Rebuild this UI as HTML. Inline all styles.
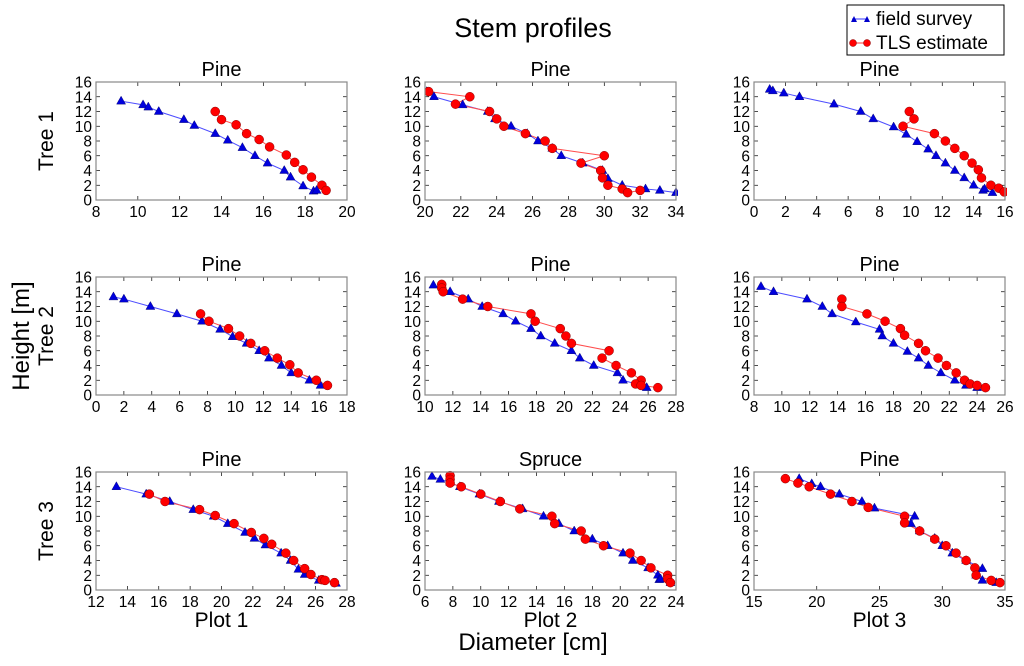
<!DOCTYPE html>
<html><head><meta charset="utf-8"><style>
body{margin:0;background:#fff}
svg text{font-family:"Liberation Sans","DejaVu Sans",sans-serif;fill:#000}
</style></head><body>
<svg id="fig" width="1024" height="661" viewBox="0 0 1024 661" xmlns="http://www.w3.org/2000/svg">
<text x="533" y="37" font-size="27" text-anchor="middle">Stem profiles</text>
<text x="0" y="0" font-size="24" text-anchor="middle" transform="translate(29,336) rotate(-90)">Height [m]</text>
<text x="533" y="650" font-size="24" text-anchor="middle">Diameter [cm]</text>
<g>
<rect x="847" y="5" width="157" height="50" fill="#fff" stroke="#000" stroke-width="1"/>
<line x1="852" y1="19" x2="868" y2="19" stroke="#3333ff" stroke-width="1"/>
<polygon points="854,16 851,22 857,22" fill="#00c"/><polygon points="867,16 864,22 870,22" fill="#00c"/>
<text x="876" y="25" font-size="19">field survey</text>
<line x1="852" y1="43" x2="868" y2="43" stroke="#f33" stroke-width="1"/>
<circle cx="853" cy="43" r="3.5" fill="#f00" stroke="#800" stroke-width="0.5"/><circle cx="867" cy="43" r="3.5" fill="#f00" stroke="#800" stroke-width="0.5"/>
<text x="876" y="49" font-size="19">TLS estimate</text>
</g>
</svg>
<script>
// Data: [diameter, height] pairs per panel
const titles=["Pine","Pine","Pine","Pine","Pine","Pine","Pine","Spruce","Pine"];
const xRanges=[[8,20,2],[20,34,2],[0,16,2],[0,18,2],[10,28,2],[8,26,2],[12,28,2],[6,24,2],[15,35,5]];
const field1=[[9.2,13.4],[10.25,12.9],[10.5,12.6],[11,12],[12.2,10.9],[12.7,10.1],[13.7,9],[14.3,8.1],[15,7.1],[15.6,6],[16.2,5],[17,4],[17.3,3.1],[17.9,1.9],[18.4,1.2],[18.55,1.3]];
const tls1=[[13.7,12],[14,10.9],[14.7,10.2],[15.2,9],[15.8,8.2],[16.3,7.2],[17.1,6.1],[17.5,5.1],[17.9,4.1],[18.3,3.1],[18.8,2],[19,1.3]];
const field2=[[20.1,14.7],[20.5,14],[22.1,12.9],[23.5,12],[23.9,11],[24.8,10],[25.7,9],[26.3,8],[27.1,7],[27.6,6],[28.8,5],[29.9,4],[30.2,2.9],[31,2],[32.3,1.5],[33.1,1.3],[34,1]];
const tls2=[[20.2,14.7],[22.5,14],[21.7,13],[23.6,12],[24,11],[24.4,10],[25.6,9],[26.7,8],[27.1,7],[30,6],[28.7,5],[29.8,4],[29.9,3],[30.2,2],[31,1.5],[31.3,1],[32,1.3]];
const field3=[[1,15],[1.2,14.8],[1.9,14.5],[2.9,14],[5.1,13],[6.8,12],[7.6,11],[8.9,9.9],[9.7,8.9],[10.4,7.9],[11.1,6.9],[11.6,6],[12.2,5],[12.8,4],[13.4,3],[14,2],[14.6,1.3],[14.7,1.5],[15.2,1]];
const tls3=[[9.9,12],[10.2,11],[9.5,10],[11.5,9],[12.2,8],[12.8,7],[13.4,6],[13.9,5],[14.3,4.1],[14.5,3],[15.1,2],[15.6,1.6],[15.95,1.1]];
const field4=[[1.25,13.3],[2,13],[3.9,12],[5.8,11],[7.6,10],[8.9,8.9],[9.8,7.9],[10.8,7],[11.7,6],[12.4,5],[13.3,4],[14,3],[15.3,2],[16.1,1.3]];
const tls4=[[7.5,11],[8.1,10],[9.5,9],[10.3,8],[11.1,7],[12.1,6],[13,5],[13.9,4.1],[14.5,3],[15.8,2],[16.6,1.3]];
const field5=[[10.6,14.9],[11.8,14],[13.1,13],[14.1,12],[15.6,11],[16.5,10],[17.6,9],[18.3,8],[19.3,7],[20.5,6],[21.1,5],[22.1,4],[23.8,3],[24.2,2],[25.3,1.4],[25.9,1]];
const tls5=[[11.2,15],[11.2,14.5],[11.3,14],[12.7,13],[14.5,12],[17.6,11],[17.9,10],[19.7,9],[20.1,8],[20.5,7],[23.2,6],[22.7,5],[23.7,4],[24.8,3],[25.5,2],[25.1,1.5],[25.5,1.3],[26.7,1]];
const field6=[[8.5,14.7],[9.4,14],[11.8,13],[12.9,12],[13.6,11],[15.3,9.9],[17,8.9],[17.2,8],[18,7],[19,5.9],[19.8,5],[20.5,4],[21.4,3],[22.4,2],[23.2,1.3],[24,1]];
const tls6=[[14.3,13],[14.3,12],[16.1,11],[17.4,10],[18.5,9],[18.8,8.1],[19.8,7],[20.3,6],[21.2,5],[21.8,4],[22.5,3],[23.1,2],[23.5,1.5],[24,1.3],[24.6,1]];
const field7=[[13.3,14],[15.2,13],[16.7,12],[18.2,10.9],[19.5,10],[20.4,9],[21.5,7.8],[22.1,7],[22.8,6.1],[23.8,5],[24.4,4],[24.9,2.8],[25.3,2.1],[26.2,1.3],[26.5,1.3],[27.3,0.9]];
const tls7=[[15.4,13],[16.4,12],[18.6,10.9],[19.6,10.1],[20.8,9],[21.9,7.8],[22.7,7],[23.2,6.2],[24.1,5],[24.6,4],[25.3,2.9],[25.7,2.1],[26.4,1.4],[26.6,1.3],[27.2,1]];
const field8=[[6.5,15.4],[7.1,15],[7.8,14.6],[8.5,14],[9.9,13],[11.3,12],[13,11],[14.5,10],[15.6,9],[16.7,8],[18,6.9],[19.1,6],[20.2,5],[20.9,4],[22,3],[22.7,2],[22.8,1.4],[22.9,1.5],[23.6,1]];
const tls8=[[7.8,15.5],[7.8,15],[7.8,14.5],[8.6,14],[10,13],[11.4,12],[12.8,11],[15.1,10],[15.3,9],[17.2,8],[17.5,6.9],[18.8,6],[20.7,5],[21.5,4],[22.2,3],[23.4,2],[23.4,1.5],[23.6,1]];
const field9=[[18.6,15.1],[19.6,14.4],[20.3,14],[21.8,13],[23.6,12],[24.6,11.1],[27.8,10],[27.5,9],[28.2,8],[29.4,7],[30,6],[30.8,5],[31.9,4],[33.2,2.9],[32.7,2],[33.2,1.3],[34.3,1]];
const tls9=[[17.5,15.1],[18.5,14.5],[19.4,14],[21.1,13],[22.8,12],[24.1,11.2],[27,10],[27,9.1],[28.2,8],[29.4,6.9],[30.3,6],[31.1,5],[31.9,4],[32.6,3],[32.7,2],[33.9,1.3],[34.6,1]];
const yTicks=[0,2,4,6,8,10,12,14,16];
const fields=[field1,field2,field3,field4,field5,field6,field7,field8,field9];
const tlss=[tls1,tls2,tls3,tls4,tls5,tls6,tls7,tls8,tls9];
const rowLabels=["Tree 1","Tree 2","Tree 3"];
const colLabels=["Plot 1","Plot 2","Plot 3"];

const NS="http://www.w3.org/2000/svg";
const svg=document.getElementById('fig');
const colX=[96,425,754], W=251, rowY=[82,277,472], H=118;
function mk(tag,attrs,parent){const e=document.createElementNS(NS,tag);for(const k in attrs)e.setAttribute(k,attrs[k]);(parent||svg).appendChild(e);return e;}
for(let p=0;p<9;p++){
  const r=Math.floor(p/3),c=p%3;
  const L=colX[c],T=rowY[r];
  const [x0,x1,st]=xRanges[p];
  const sx=v=>L+(v-x0)/(x1-x0)*W;
  const sy=v=>T+H-(v/16)*H;
  const g=mk('g',{});
  
  
  const cid='clip'+p;
  const cp=mk('clipPath',{id:cid},g);mk('rect',{x:L,y:T-2,width:W+2,height:H+2},cp);
  const t=mk('text',{x:L+W/2,y:T-6,'font-size':20,'text-anchor':'middle'},g);t.textContent=titles[p];
  
  
  for(const v of yTicks){
    const y=sy(v);
    mk('line',{x1:L,y1:y,x2:L+4,y2:y,stroke:'#000','stroke-width':0.7},g);
    mk('line',{x1:L+W-4,y1:y,x2:L+W,y2:y,stroke:'#000','stroke-width':0.7},g);
    const tt=mk('text',{x:L-4,y:y+5.5,'font-size':15.5,'text-anchor':'end'},g);tt.textContent=v;
    
    
  }
  for(let v=x0;v<=x1+1e-9;v+=st){
    const x=sx(v);
    mk('line',{x1:x,y1:T+H,x2:x,y2:T+H-4,stroke:'#000','stroke-width':0.7},g);
    mk('line',{x1:x,y1:T,x2:x,y2:T+4,stroke:'#000','stroke-width':0.7},g);
    const tt=mk('text',{x:x,y:T+H+17,'font-size':15.5,'text-anchor':'middle'},g);tt.textContent=v;
    
    
  }
  const dg=mk('g',{'clip-path':'url(#'+cid+')'},g);
  const f=fields[p], s=tlss[p];
  const fl=mk('polyline',{points:f.map(d=>sx(d[0])+','+sy(d[1])).join(' '),fill:'none',stroke:'#4d4dff','stroke-width':1},dg);
  
  
  const tl=mk('polyline',{points:s.map(d=>sx(d[0])+','+sy(d[1])).join(' '),fill:'none',stroke:'#ff4d4d','stroke-width':1},dg);
  
  
  for(const d of f){
    const x=sx(d[0]),y=sy(d[1]);
    const m=mk('polygon',{points:`${x},${y-5} ${x-4.5},${y+3} ${x+4.5},${y+3}`,fill:'#0000dd',stroke:'#000066','stroke-width':0.4},dg);
    
    
  }
  for(const d of s){
    const m=mk('circle',{cx:sx(d[0]),cy:sy(d[1]),r:4.5,fill:'#ff0000',stroke:'#880000','stroke-width':0.5},dg);
    
    
  }
  const fr=mk('rect',{x:L,y:T,width:W,height:H,fill:'none',stroke:'#888','stroke-width':1.2},g);
  
  
  if(c===0){
    const rl=mk('text',{x:0,y:0,'font-size':21,'text-anchor':'middle',transform:`translate(${L-43},${T+H/2}) rotate(-90)`});
    rl.textContent=rowLabels[r];
    
    
  }
  if(r===2){
    const cl=mk('text',{x:L+W/2,y:T+H+37,'font-size':21,'text-anchor':'middle'});
    cl.textContent=colLabels[c];
    
    
  }
}
</script>
</body></html>
